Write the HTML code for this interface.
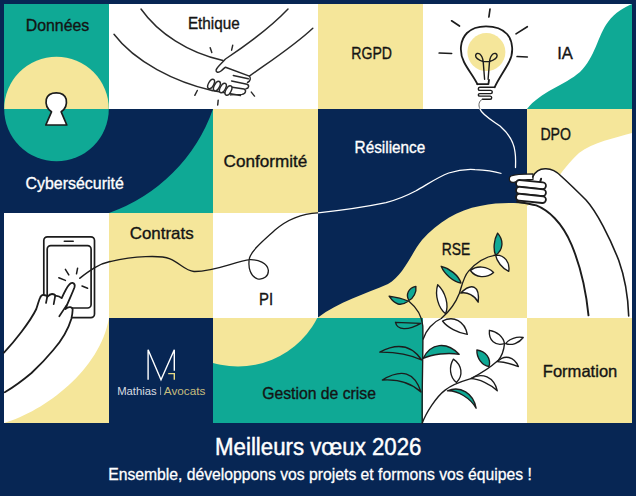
<!DOCTYPE html>
<html><head><meta charset="utf-8">
<style>
html,body{margin:0;padding:0;background:#072654;overflow:hidden;}
svg{display:block;}
text{font-family:"Liberation Sans",sans-serif;}
</style></head>
<body>
<svg width="636" height="496" viewBox="0 0 636 496">
<defs>
<clipPath id="t11"><rect x="4" y="4" width="105" height="105"/></clipPath>
<clipPath id="t21"><rect x="4" y="109" width="105" height="104"/></clipPath>
<clipPath id="t34"><rect x="213" y="318" width="105" height="105"/></clipPath>
</defs>
<rect x="0" y="0" width="636" height="496" fill="#072654"/>
<g shape-rendering="crispEdges">
<rect x="4" y="4" width="105" height="105" fill="#0FA995"/>
<rect x="109" y="4" width="104" height="105" fill="#ffffff"/>
<rect x="213" y="4" width="105" height="105" fill="#ffffff"/>
<rect x="318" y="4" width="105" height="105" fill="#F5E69A"/>
<rect x="423" y="4" width="104" height="105" fill="#ffffff"/>
<rect x="527" y="4" width="105" height="105" fill="#ffffff"/>
<rect x="4" y="109" width="105" height="104" fill="#072654"/>
<rect x="109" y="109" width="104" height="104" fill="#072654"/>
<rect x="213" y="109" width="105" height="104" fill="#F5E69A"/>
<rect x="318" y="109" width="105" height="104" fill="#072654"/>
<rect x="423" y="109" width="104" height="104" fill="#072654"/>
<rect x="527" y="109" width="105" height="104" fill="#F5E69A"/>
<rect x="4" y="213" width="105" height="105" fill="#ffffff"/>
<rect x="109" y="213" width="104" height="105" fill="#F5E69A"/>
<rect x="213" y="213" width="105" height="105" fill="#ffffff"/>
<rect x="318" y="213" width="105" height="105" fill="#072654"/>
<rect x="423" y="213" width="104" height="105" fill="#072654"/>
<rect x="527" y="213" width="105" height="105" fill="#ffffff"/>
<rect x="4" y="318" width="105" height="105" fill="#ffffff"/>
<rect x="109" y="318" width="104" height="105" fill="#072654"/>
<rect x="213" y="318" width="105" height="105" fill="#0FA995"/>
<rect x="318" y="318" width="105" height="105" fill="#0FA995"/>
<rect x="423" y="318" width="104" height="105" fill="#ffffff"/>
<rect x="527" y="318" width="105" height="105" fill="#F5E69A"/>
</g>
<!-- IA teal wave -->
<path d="M527,109 C540,92 565,85 580,72 C595,58 598,35 608,22 C615,12 625,7 632,4 L632,109 Z" fill="#0FA995"/>
<!-- C2R2 arc -->
<path d="M213,109 A170,170 0 0 1 109,213 L213,213 Z" fill="#0FA995"/>
<!-- Données circle -->
<circle cx="56.5" cy="109" r="52.3" fill="#F5E69A" clip-path="url(#t11)"/>
<circle cx="56.5" cy="109" r="52.3" fill="#0FA995" clip-path="url(#t21)"/>
<!-- C1R4 yellow corner -->
<path d="M4,423 C45,411 100,370 109,318 L109,423 Z" fill="#F5E69A"/>
<!-- C3R4 yellow circle -->
<circle cx="238" cy="277.5" r="89" fill="#F5E69A" clip-path="url(#t34)"/>
<!-- C4/C5 R3 yellow wave -->
<path d="M318,317.5 C338,302 365,294 388,284 C404,275 412,252 422,240 C438,222 458,210 480,206 C500,202 515,203 527,204 L527,318 L318,318 Z" fill="#F5E69A"/>
<!-- DPO white shape -->
<path d="M632,133 C615,138 593,142 579,153 C569,162 562,172 556,180 C548,192 535,202 527,206 L527,213.5 L632,213.5 Z" fill="#ffffff"/>

<g fill="none" stroke="#1c1c1c" stroke-linecap="round" stroke-linejoin="round">
<!-- keyhole -->
<path d="M51.5,111.8 C46.8,108.5 45.5,103.5 46.3,99.3 C47.5,94.8 51.5,92.8 56.3,92.8 C61,92.8 65,94.8 66.2,99.3 C67,103.5 65.8,108.5 61.2,111.8 L66.8,125 L45.8,125 Z" fill="#ffffff" stroke-width="1.7"/>
<!-- handshake -->
<g stroke-width="1.45" stroke="#2a2a2a">
<path d="M141,9 C158,33 188,53 223,60.5"/>
<path d="M288,9 C270,28 248,44 225.5,59"/>
<path d="M114,34.3 C135,62 175,82 212,90.5"/>
<path d="M312.8,28.2 C295,45 272,60 249.4,76.1"/>
<path d="M225,59.5 C221,64 217,67 216.1,70 C215.8,72.5 218.5,73 221,71 C223,69.5 224.5,67.5 225.5,67.2 L249.4,76.1 C251,78 250.5,81 247.5,82.5"/>
<path d="M233.3,75.5 L248.3,78.8"/>
<path d="M231.6,81 L247,84.2 C249.5,85 249,88.5 246,88.8"/>
<path d="M230.5,87 L244,89 C246.5,90 246,94 242,94.4 L230.5,94.9"/>
<path d="M212,90.5 L240.5,95.5"/>
<ellipse cx="211.1" cy="84" rx="5.2" ry="2.6" transform="rotate(-62 211.1 84)" fill="#fff"/>
<ellipse cx="216.9" cy="86.1" rx="5.2" ry="2.6" transform="rotate(-62 216.9 86.1)" fill="#fff"/>
<ellipse cx="222.9" cy="88" rx="5.2" ry="2.6" transform="rotate(-62 222.9 88)" fill="#fff"/>
<ellipse cx="228.5" cy="90.5" rx="5.2" ry="2.6" transform="rotate(-62 228.5 90.5)" fill="#fff"/>
<path d="M210.2,47.7 L211.8,52.6"/>
<path d="M232.7,45.3 L231.6,50.2"/>
<path d="M197.3,90.5 L194.8,95.3"/>
<path d="M218.2,100.2 L217.7,105"/>
<path d="M251.3,92.1 L254.5,96.1"/>
</g>
<!-- bulb -->
<circle cx="486.4" cy="52.1" r="19" fill="#F5E69A" stroke="none"/>
<g stroke-width="1.8">
<path d="M477.4,84.2 C474,77 468,70 464,62 C459,52 460,40 467,33 C472,28 479,26.3 486,26.3 C494,26.3 502,28.5 507,34 C513,41 514,53 509,62 C505,70 499,78 494.6,87.3"/>
<path d="M477.4,84.2 L488.4,84.2 L489,80"/>
</g>
<g stroke-width="1.4">
<path d="M494.6,87.3 L479.8,87.3 C477.8,87.5 477.8,90.4 479.8,90.4 L490.8,90.4 C492.8,90.6 492.8,93.6 490.8,93.6 L479.8,93.6 C477.8,93.8 477.8,96.1 479.8,96.1 L490.2,96.1 C492.2,96.3 492.2,99.2 490.2,99.2 L482.4,99.2"/>
<path d="M484.6,79.2 L483.2,61.6 M488.1,79.2 L489.5,61.6"/>
<path d="M483.2,61.6 C480,60.5 475.5,58 475.6,55.5 C475.7,53.3 478,52.8 479.8,54 C481.6,55.5 482.8,58.5 483.2,61.6 L489.5,61.6 C489.9,58.5 491.1,55.5 492.9,54 C494.7,52.8 497,53.3 497.1,55.5 C497.2,58 492.7,60.5 489.5,61.6"/>
</g>
<g stroke-width="1.7">
<path d="M490,9 L488.9,17"/>
<path d="M451.6,20.8 L459.5,26"/>
<path d="M439.2,53 L451.6,53.5"/>
<path d="M516,33.9 L527.3,26.7"/>
<path d="M517.1,56.5 L527.3,57"/>
</g>
</g>
<!-- cables -->
<path d="M482.4,99.2 C479,101 478,105 480,109" fill="none" stroke="#666" stroke-width="1"/>
<path d="M480,109 C482,115 494,121.6 500,126 C508,133 514,142 515,152 C516,158 515.5,163 515.5,167.5" fill="none" stroke="#ffffff" stroke-width="1.3" stroke-linecap="round"/>
<path d="M318,212.8 C335,211 365,207 386,202.6 C400,199 408,195 415.6,191 C428,184 438,177 448.7,173 C458,170 466,169 475,169.6 C485,170 495,171.5 501.5,173.5" fill="none" stroke="#ffffff" stroke-width="1.3"/>
<path d="M318,212.8 C305,213.5 290,217 275,230 C263,241 252,250 249.5,258 C247.5,268 251,277 257.5,278.8 C264,280 268.8,276 268.3,270 C267.5,263 258,259.5 250,259.7 C236,261 214,272 194,271.5 C185,270.5 180,263 170,258.8 C160,255 135,256 110,261.6" fill="none" stroke="#1c1c1c" stroke-width="1.3"/>
<!-- phone -->
<g fill="none" stroke="#1c1c1c" stroke-linecap="round" stroke-linejoin="round">
<rect x="43.8" y="236.8" width="50.7" height="80.8" rx="3.6" stroke-width="1.7"/>
<rect x="47.2" y="245.6" width="43.9" height="62.4" rx="3.6" stroke-width="1.7"/>
<path d="M64.3,241.2 L73.2,241.2" stroke-width="1.6"/>
<g stroke-width="1.5">
<path d="M58.8,277.8 L65.4,280.4"/>
<path d="M65.4,269.3 L68.8,274.9"/>
<path d="M77.6,268.2 L76.5,273.8"/>
<path d="M82,286 L87.6,288.2"/>
<path d="M79.8,278.2 C88,272 98,264 110,261.6"/>
</g>
<path d="M4,352.6 C14,342 30,322 36.3,309 C38,304 39,300 39.9,298.1 C41,295.5 42.5,294.8 43.6,295 C45.5,295 47.5,296 47.2,297 C49,295 51,294 52,294 C54,294 55.5,295 55.2,296 C57,295.5 59,295.8 61.7,298.1 C64,293 67,287 69,284.8 C70.5,283 72,282.7 72.6,282.9 C74.5,283.5 75,285.5 74.5,287.3 C72,294 69,300 65.3,309 C67,307.5 69,307 70.2,307.1 C72,307.5 73,309 72.6,310.2 C72.5,313 72,316 71.4,318.7 C68,330 62,340 53.3,350 C45,360 38,367 31.5,373 C22,381 12,388 4.8,392.3 L4,392.3 Z" fill="#ffffff" stroke="none"/>
<path d="M4,352.6 C14,342 30,322 36.3,309 C38,304 39,300 39.9,298.1 C41,295.5 42.5,294.8 43.6,295 C45.5,295 47.5,296 47.2,297 C49,295 51,294 52,294 C54,294 55.5,295 55.2,296 C57,295.5 59,295.8 61.7,298.1 C64,293 67,287 69,284.8 C70.5,283 72,282.7 72.6,282.9 C74.5,283.5 75,285.5 74.5,287.3 C72,294 69,300 65.3,309 C67,307.5 69,307 70.2,307.1 C72,307.5 73,309 72.6,310.2 C72.5,313 72,316 71.4,318.7 C68,330 62,340 53.3,350 C45,360 38,367 31.5,373 C22,381 12,388 4.8,392.3" stroke-width="1.8"/>
<path d="M47.2,297 L46,303 M55.2,296 L53.7,304.2 M66.5,305.4 L59.3,316.3" stroke-width="1.7"/>
</g>
<!-- DPO hand and arm -->
<path d="M532.7,177 C535,172 540,168.5 546,168.8 C552,169 557,172 561,176 C572,186 580,194 586,200 C597,212 610,238 618.7,260.3 C624,275 628,295 628.9,318 L588.5,318 C586,290 580,265 571.5,244.6 C562,222 548,210 536.3,205.4 L517,201.7 Z" fill="#ffffff" stroke="none"/>
<g fill="none" stroke="#1c1c1c" stroke-linecap="round" stroke-linejoin="round">
<path d="M533,173.9 C525,174 515,174.3 511,176 C508.3,177.5 508.8,182.5 513,182.4 C516,182 518,180 533,179.4 Z" fill="#ffffff" stroke-width="1.2"/>
<path d="M532.7,177 C535,172 540,168.5 546,168.8 C552,169 557,172 561,176 C572,186 580,194 586,200 C597,212 610,238 618.7,260.3 C624,275 628,295 628.7,316" stroke-width="1.6"/>
<path d="M541.1,178.7 L540,182.4" stroke-width="2"/>
<g fill="#ffffff" stroke-width="1.8">
<rect x="516" y="181.2" width="30" height="6.8" rx="3.4" transform="rotate(6 531 184.6)"/>
<rect x="516" y="188.1" width="30" height="6.8" rx="3.4" transform="rotate(6 531 191.5)"/>
<rect x="516" y="195" width="30" height="6.8" rx="3.4" transform="rotate(6 531 198.4)"/>
</g>
<path d="M517,201.7 C525,203 531,204 536.3,205.4 C548,210 562,222 571.5,244.6 C580,265 586,290 588.5,315.4" stroke-width="1.9"/>
</g>
<!-- plant -->
<g stroke="#1c1c1c" stroke-width="1.35" stroke-linejoin="round" stroke-linecap="round">
<path fill="none" d="M408.9,301.2 C416,307 422,315 422.8,326 C423.5,345 421.5,400 422.3,423"/>
<path fill="none" d="M423.2,339 C426,330 433,322 441.3,318.5 C450,311 456,302 459.3,293.5 C462,285 464,276 468.4,271.4 C474,265 484,257 495.6,255.2"/>
<path fill="none" d="M422.3,423 C426,413 436,397 445.1,390.1 C453,384 463,381 470.8,378.7 C480,374 492,366 498,360.6 C502,356 504,349 504.5,343.6"/>
<path d="M495.6,255.2 C503.2,250.3 504.1,240.4 497.6,233.1 C493.9,239.5 493.0,249.4 495.6,255.2 Z" fill="#0FA995"/>
<path d="M495.6,255.2 C496.5,261.2 502.4,268.5 508.7,271.4 C510.3,262.1 504.4,254.8 495.6,255.2 Z" fill="#ffffff"/>
<path d="M470.4,270.5 C475.6,277.8 486.1,278.7 493.6,272.4 C487.1,266.0 476.7,265.2 470.4,270.5 Z" fill="#ffffff"/>
<path d="M461.0,283.0 C458.7,275.7 449.8,268.2 441.2,266.3 C444.5,274.4 453.4,281.9 461.0,283.0 Z" fill="#0FA995"/>
<path d="M460.7,293.1 C467.1,291.5 475.0,295.6 478.2,302.2 C479.9,286.1 472.0,282.0 460.7,293.1 Z" fill="#ffffff"/>
<path d="M445.6,313.7 C449.1,305.0 445.5,291.9 437.7,284.7 C434.6,294.9 438.2,307.9 445.6,313.7 Z" fill="#ffffff"/>
<path d="M442.5,321.0 C447.1,327.3 458.3,333.2 467.3,334.3 C464.8,321.2 453.6,315.2 442.5,321.0 Z" fill="#ffffff"/>
<path d="M408.2,301.2 C402.7,298.8 397.0,297.3 389.1,296.2 C395.0,305.0 400.7,306.5 408.2,301.2 Z" fill="#0FA995"/>
<path d="M408.9,300.5 C413.5,298.4 416.7,292.1 415.9,286.4 C408.5,288.0 405.4,294.4 408.9,300.5 Z" fill="#0FA995"/>
<path d="M420.7,323.3 C408.1,322.8 397.5,322.4 395.5,322.3 C397.2,330.3 407.8,330.8 420.7,323.3 Z" fill="#0FA995"/>
<path d="M421.6,360.0 C411.5,345.0 398.1,342.4 379.8,352.1 C396.3,351.9 409.7,354.4 421.6,360.0 Z" fill="#0FA995"/>
<path d="M421.0,392.0 C414.4,372.1 402.0,368.3 382.3,380.0 C398.8,378.9 411.1,382.8 421.0,392.0 Z" fill="#0FA995"/>
<path d="M423.2,358.4 C431.8,354.1 448.0,352.3 459.1,354.3 C446.7,341.1 430.5,343.0 423.2,358.4 Z" fill="#0FA995"/>
<path d="M456.5,382.5 C463.5,375.6 462.1,365.1 453.4,359.1 C448.5,366.9 449.9,377.4 456.5,382.5 Z" fill="#ffffff"/>
<path d="M489.0,366.6 C491.3,358.6 485.8,351.1 476.9,350.0 C476.5,357.9 482.0,365.4 489.0,366.6 Z" fill="#0FA995"/>
<path d="M470.8,378.7 C478.8,378.8 490.7,384.2 497.3,390.8 C493.9,377.1 482.0,371.7 470.8,378.7 Z" fill="#ffffff"/>
<path d="M447.4,390.8 C457.5,390.3 470.4,398.1 476.1,408.2 C473.4,393.3 460.5,385.4 447.4,390.8 Z" fill="#0FA995"/>
<path d="M504.5,343.6 C503.5,337.1 496.7,331.1 489.4,330.3 C488.5,340.5 495.3,346.5 504.5,343.6 Z" fill="#ffffff"/>
<path d="M505.7,343.6 C511.4,345.9 519.3,343.1 523.2,337.5 C516.8,336.2 509.0,338.9 505.7,343.6 Z" fill="#ffffff"/>
<path d="M497.2,361.7 C502.7,361.9 512.3,364.1 518.4,366.6 C514.0,356.4 504.5,354.2 497.2,361.7 Z" fill="#ffffff"/>
</g>
<!-- logo -->
<g fill="none" stroke="#ffffff" stroke-width="1.4">
<path d="M148.1,379.7 L148.1,349.8 L161,379.7 L174.3,349.8 L174.3,370.8"/>
</g>
<path d="M168.2,373.6 L174.3,373.6 L174.3,379.7" fill="none" stroke="#E9DB86" stroke-width="1.4"/>
<text x="117.2" y="394.8" font-size="10.8" fill="#ffffff" fill-opacity="0.85" textLength="39.5" lengthAdjust="spacingAndGlyphs">Mathias</text>
<path d="M160.6,386.8 L160.6,395" stroke="#c8cdd8" stroke-width="0.7"/>
<text x="163.8" y="394.8" font-size="10.8" fill="#E9DB86" fill-opacity="0.85" textLength="41.5" lengthAdjust="spacingAndGlyphs">Avocats</text>

<!-- Labels -->
<g fill="#141414" stroke="#141414" stroke-width="0.35">
<text x="25.7" y="31.1" font-size="16.5" textLength="63.6" lengthAdjust="spacingAndGlyphs">Données</text>
<text x="187.9" y="28.9" font-size="16.5" textLength="51.8" lengthAdjust="spacingAndGlyphs">Ethique</text>
<text x="351.3" y="59.2" font-size="16.5" textLength="40.7" lengthAdjust="spacingAndGlyphs">RGPD</text>
<text x="557.2" y="59.1" font-size="16.5" textLength="15.7" lengthAdjust="spacingAndGlyphs">IA</text>
<text x="223.6" y="167" font-size="16.5" textLength="83.7" lengthAdjust="spacingAndGlyphs">Conformité</text>
<text x="540.4" y="139.7" font-size="16.5" textLength="30.6" lengthAdjust="spacingAndGlyphs">DPO</text>
<text x="129.7" y="239" font-size="16.5" textLength="63.9" lengthAdjust="spacingAndGlyphs">Contrats</text>
<text x="259.1" y="304.9" font-size="16.5" textLength="14.1" lengthAdjust="spacingAndGlyphs">PI</text>
<text x="441.8" y="254.5" font-size="16.5" textLength="28.5" lengthAdjust="spacingAndGlyphs">RSE</text>
<text x="262.2" y="399.4" font-size="16.5" textLength="113.8" lengthAdjust="spacingAndGlyphs">Gestion de crise</text>
<text x="542.8" y="376.5" font-size="16.5" textLength="74.5" lengthAdjust="spacingAndGlyphs">Formation</text>
</g>
<g fill="#ffffff" stroke="#ffffff" stroke-width="0.35">
<text x="25.5" y="189" font-size="16.5" textLength="98.3" lengthAdjust="spacingAndGlyphs">Cybersécurité</text>
<text x="354.6" y="153.1" font-size="16.5" textLength="70.7" lengthAdjust="spacingAndGlyphs">Résilience</text>
</g>
<g fill="#ffffff" stroke="#ffffff" stroke-width="0.2">
<text x="215.1" y="454.9" font-size="23" stroke-width="0.45" textLength="206.3" lengthAdjust="spacingAndGlyphs">Meilleurs vœux 2026</text>
<text x="108.2" y="480.4" font-size="16.3" stroke-width="0.3" textLength="423.6" lengthAdjust="spacingAndGlyphs">Ensemble, développons vos projets et formons vos équipes !</text>
</g>
</svg>
</body></html>
